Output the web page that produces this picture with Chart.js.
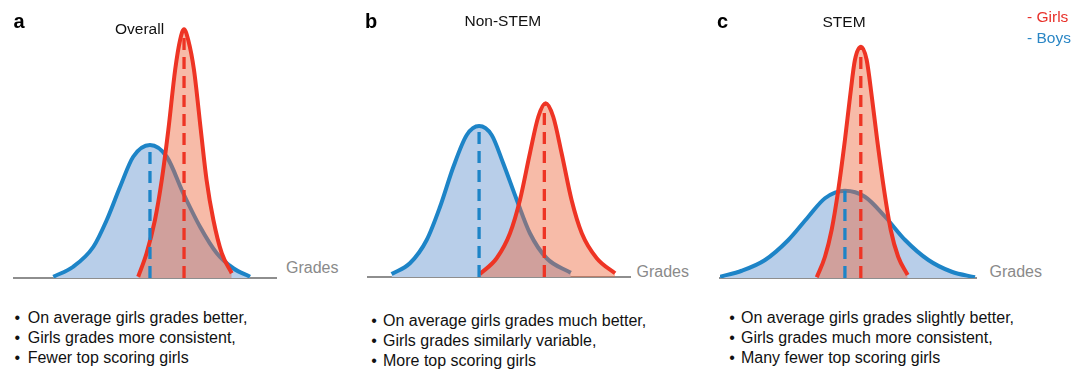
<!DOCTYPE html>
<html><head><meta charset="utf-8">
<script src="https://cdn.jsdelivr.net/npm/chart.js@4.4.0/dist/chart.umd.min.js"></script>
<style>
html,body{margin:0;padding:0;background:#fff;}
#wrap{position:relative;width:1080px;height:379px;overflow:hidden;background:#fff;font-family:'Helvetica Neue',Helvetica,'Liberation Sans',Arial,sans-serif;}
canvas{position:absolute;}
.t{position:absolute;white-space:nowrap;}
</style></head><body><div id="wrap"></div>
<script>
// ---------- text ----------
const panelLetters = ['a', 'b', 'c'];
const panelTitles = ['Overall', 'Non-STEM', 'STEM'];
const axisLabel = 'Grades';
const legendLabels = ['- Girls', '- Boys'];
const notesA = ['On average girls grades better,', 'Girls grades more consistent,', 'Fewer top scoring girls'];
const notesB = ['On average girls grades much better,', 'Girls grades similarly variable,', 'More top scoring girls'];
const notesC = ['On average girls grades slightly better,', 'Girls grades much more consistent,', 'Many fewer top scoring girls'];

// ---------- data (grade 0-100 across each panel, relative density) ----------
const boysGradesA  = [15.0, 22.6, 30.3, 35.4, 40.5, 45.5, 51.9, 58.3, 64.6, 71.0, 77.4, 83.7, 90.1];
const boysDensityA = [0.5, 4.5, 12.5, 23.2, 36.5, 48.5, 53.2, 48.5, 33.9, 20.5, 9.9, 3.9, 0.5];
const girlsGradesA  = [47.4, 50.6, 53.8, 56.4, 58.9, 61.5, 63.4, 64.9, 66.5, 68.7, 71.3, 73.5, 76.1, 79.3, 83.1];
const girlsDensityA = [0.5, 9.9, 23.2, 39.2, 59.2, 83.2, 95.2, 99.5, 95.2, 83.2, 59.2, 39.2, 23.2, 9.9, 1.9];

const boysGradesB  = [9.0, 16.0, 22.4, 27.5, 32.6, 37.7, 42.4, 47.2, 51.6, 56.8, 61.8, 68.2, 77.4];
const boysDensityB = [1.2, 5.5, 14.8, 28.1, 44.1, 56.8, 60.4, 56.8, 45.5, 30.8, 17.5, 7.5, 1.7];
const girlsGradesB  = [42.7, 49.1, 54.2, 58.0, 61.8, 65.0, 67.8, 70.7, 73.9, 77.7, 81.6, 87.3, 94.3];
const girlsDensityB = [1.2, 7.5, 17.5, 30.8, 49.5, 64.1, 69.5, 64.1, 49.5, 30.8, 17.5, 7.5, 1.5];

const boysGradesC  = [0.0, 8.5, 17.6, 26.7, 34.5, 41.0, 48.8, 56.6, 64.5, 72.3, 81.4, 90.5, 99.6];
const boysDensityC = [0.5, 2.9, 7.2, 15.2, 24.5, 31.9, 34.9, 32.5, 24.5, 15.2, 7.2, 2.5, 0.3];
const girlsGradesC  = [37.8, 41.0, 43.6, 46.2, 48.8, 50.8, 52.7, 55.1, 57.3, 59.3, 61.4, 64.1, 66.7, 69.6, 73.3];
const girlsDensityC = [0.3, 8.5, 19.2, 35.2, 55.2, 72.5, 87.2, 92.5, 87.2, 72.5, 55.2, 35.2, 19.2, 8.5, 1.2];

const boysMean  = [51.9, 42.4, 48.8];
const girlsMean = [64.9, 67.3, 55.0];
const boysPeak  = [53.2, 60.4, 34.9];
const girlsPeak = [99.5, 69.5, 92.5];

// ---------- styling / layout ----------
const BLUE = '#1d84c7';
const BLUE_FILL = 'rgb(184,206,233)';
const RED = '#ee3424';
const RED_FILL = 'rgba(238,104,62,0.45)';
const GREY = '#8e8e8e';

const wrap = document.getElementById('wrap');
const boysG = [boysGradesA, boysGradesB, boysGradesC];
const boysD = [boysDensityA, boysDensityB, boysDensityC];
const girlsG = [girlsGradesA, girlsGradesB, girlsGradesC];
const girlsD = [girlsDensityA, girlsDensityB, girlsDensityC];
const notes = [notesA, notesB, notesC];

const panels = [
  {x: 14, w: 262, base: 278, letter: [13.5, 9], title: [115, 19], grades: [286, 258], notes: [14.5, 27.7, 308]},
  {x: 368, w: 262, base: 277, letter: [365, 9], title: [464.5, 11], grades: [636.5, 262], notes: [371.2, 383, 310.5]},
  {x: 720, w: 256, base: 278, letter: [717, 9], title: [822.5, 11.7], grades: [989.5, 262], notes: [729.2, 741, 307.7]}
];
const PXU = 2.5; // px per density unit
const AREA_H = 284;

function txt(s, left, top, css) {
  const d = document.createElement('div');
  d.className = 't';
  d.textContent = s;
  d.style.left = left + 'px';
  d.style.top = top + 'px';
  d.style.cssText += css;
  wrap.appendChild(d);
  return d;
}
function pts(xs, ys) { return xs.map((x, k) => ({x: x, y: ys[k]})); }

panels.forEach((P, i) => {
  const cv = document.createElement('canvas');
  cv.width = P.w + 12; cv.height = AREA_H + 6;
  cv.style.left = (P.x - 6) + 'px';
  cv.style.top = (P.base - AREA_H) + 'px';
  cv.style.width = (P.w + 12) + 'px'; cv.style.height = (AREA_H + 6) + 'px';
  wrap.appendChild(cv);
  new Chart(cv, {
    type: 'line',
    data: {datasets: [
      {label: 'Boys mean', data: [{x: boysMean[i], y: 0}, {x: boysMean[i], y: boysPeak[i]}],
       borderColor: BLUE, borderWidth: 3.3, borderDash: [12, 7], pointRadius: 0, fill: false, order: 0},
      {label: 'Girls mean', data: [{x: girlsMean[i], y: 0}, {x: girlsMean[i], y: girlsPeak[i]}],
       borderColor: RED, borderWidth: 3.3, borderDash: [12, 7], pointRadius: 0, fill: false, order: 1},
      {label: 'Girls', data: pts(girlsG[i], girlsD[i]), borderColor: RED, backgroundColor: RED_FILL,
       fill: 'origin', borderWidth: 4, cubicInterpolationMode: 'monotone', pointRadius: 0, order: 2},
      {label: 'Boys', data: pts(boysG[i], boysD[i]), borderColor: BLUE, backgroundColor: BLUE_FILL,
       fill: 'origin', borderWidth: 4, cubicInterpolationMode: 'monotone', pointRadius: 0, order: 3}
    ]},
    options: {
      responsive: false, animation: false, events: [],
      layout: {padding: {left: 6, right: 6, top: 0, bottom: 6}},
      plugins: {legend: {display: false}, tooltip: {enabled: false}},
      scales: {
        x: {type: 'linear', min: 0, max: 100, grid: {display: false, drawTicks: false},
            ticks: {display: false}, border: {display: true, color: GREY, width: 2}},
        y: {min: 0, max: AREA_H / PXU, display: false}
      }
    }
  });
  txt(panelLetters[i], P.letter[0], P.letter[1], 'font-size:20px;font-weight:bold;line-height:24px;color:#000;');
  txt(panelTitles[i], P.title[0], P.title[1], 'font-size:15.5px;line-height:20px;color:#111;');
  txt(axisLabel, P.grades[0], P.grades[1], 'font-size:16px;line-height:20px;color:#8a8a8a;');
  notes[i].forEach((n, k) => {
    const d = txt('', P.notes[0], P.notes[2] + k * 20, 'font-size:16px;line-height:20px;color:#111;');
    const b = document.createElement('span');
    b.textContent = '\u2022';
    b.style.display = 'inline-block';
    b.style.width = (P.notes[1] - P.notes[0]) + 'px';
    d.appendChild(b);
    d.appendChild(document.createTextNode(n));
  });
});
txt(legendLabels[0], 1027, 6.7, 'font-size:15.5px;line-height:20px;color:#e8312a;');
txt(legendLabels[1], 1027, 27.7, 'font-size:15.5px;line-height:20px;color:#2a86c5;');
</script></body></html>
